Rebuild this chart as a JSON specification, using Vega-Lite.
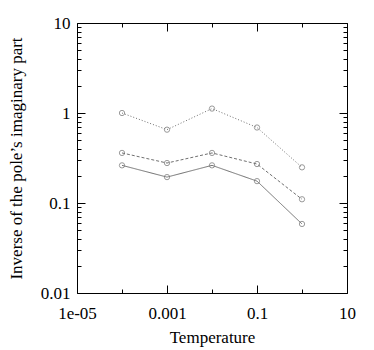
{
  "$schema": "https://vega.github.io/schema/vega-lite/v6.json",
  "width": 270,
  "height": 270,
  "autosize": {"type": "none"},
  "padding": {"left": 77, "top": 23, "right": 27, "bottom": 57},
  "background": "white",
  "config": {
    "view": {"stroke": "black", "strokeWidth": 1},
    "font": "Liberation Serif",
    "axis": {
      "domain": false,
      "grid": false,
      "tickColor": "black",
      "labelFont": "Liberation Serif",
      "labelFontSize": 17,
      "labelColor": "black",
      "titleFont": "Liberation Serif",
      "titleFontSize": 17,
      "titleFontWeight": "normal",
      "titleColor": "black",
      "labelFlush": false,
      "labelOverlap": false
    }
  },
  "data": {
    "values": [
      {"series": "a", "t": 0.0001, "v": 1.0},
      {"series": "a", "t": 0.001, "v": 0.653},
      {"series": "a", "t": 0.01, "v": 1.12},
      {"series": "a", "t": 0.1, "v": 0.69},
      {"series": "a", "t": 1, "v": 0.249},
      {"series": "b", "t": 0.0001, "v": 0.36},
      {"series": "b", "t": 0.001, "v": 0.278},
      {"series": "b", "t": 0.01, "v": 0.36},
      {"series": "b", "t": 0.1, "v": 0.271},
      {"series": "b", "t": 1, "v": 0.11},
      {"series": "c", "t": 0.0001, "v": 0.262},
      {"series": "c", "t": 0.001, "v": 0.194},
      {"series": "c", "t": 0.01, "v": 0.262},
      {"series": "c", "t": 0.1, "v": 0.175},
      {"series": "c", "t": 1, "v": 0.0585}
    ]
  },
  "layer": [
    {
      "mark": {"type": "line", "color": "#707070", "strokeWidth": 1},
      "encoding": {
        "x": {
          "field": "t", "type": "quantitative",
          "scale": {"type": "log", "domain": [0.00001, 10], "nice": false},
          "axis": {
            "orient": "bottom",
            "title": "Temperature",
            "titlePadding": 4,
            "values": [0.00001, 0.0001, 0.001, 0.01, 0.1, 1, 10],
            "labelExpr": "datum.value == 0.00001 ? '1e-05' : datum.value == 0.001 ? '0.001' : datum.value == 0.1 ? '0.1' : datum.value == 10 ? '10' : ''",
            "tickSize": {"condition": {"test": "datum.value == 0.0001 || datum.value == 0.01 || datum.value == 1", "value": -4}, "value": -8},
            "labelPadding": 20
          }
        },
        "y": {
          "field": "v", "type": "quantitative",
          "scale": {"type": "log", "domain": [0.01, 10], "nice": false},
          "axis": {
            "orient": "left",
            "title": "Inverse of the pole’s imaginary part",
            "titlePadding": 15,
            "values": [0.01, 0.02, 0.03, 0.04, 0.05, 0.06, 0.07, 0.08, 0.09, 0.1, 0.2, 0.3, 0.4, 0.5, 0.6, 0.7, 0.8, 0.9, 1, 2, 3, 4, 5, 6, 7, 8, 9, 10],
            "labelExpr": "datum.value == 0.01 ? '0.01' : datum.value == 0.1 ? '0.1' : datum.value == 1 ? '1' : datum.value == 10 ? '10' : ''",
            "tickSize": {"condition": {"test": "indexof([0.01, 0.1, 1, 10], datum.value) < 0", "value": -4}, "value": -8},
            "labelPadding": 15
          }
        },
        "strokeDash": {
          "field": "series", "type": "nominal",
          "scale": {"domain": ["a", "b", "c"], "range": [[1, 2], [3, 2], [1, 0]]},
          "legend": null
        },
        "detail": {"field": "series"}
      }
    },
    {
      "mark": {"type": "point", "shape": "circle", "filled": false, "size": 28, "color": "#707070", "strokeWidth": 1},
      "encoding": {
        "x": {"field": "t", "type": "quantitative", "axis": null},
        "y": {"field": "v", "type": "quantitative", "axis": null}
      }
    },
    {
      "mark": {"type": "point", "opacity": 0},
      "encoding": {
        "x": {
          "field": "t", "type": "quantitative",
          "axis": {
            "orient": "top", "title": null, "labels": false,
            "values": [0.00001, 0.0001, 0.001, 0.01, 0.1, 1, 10],
            "tickSize": {"condition": {"test": "datum.value == 0.0001 || datum.value == 0.01 || datum.value == 1", "value": -4}, "value": -8}
          }
        },
        "y": {
          "field": "v", "type": "quantitative",
          "axis": {
            "orient": "right", "title": null, "labels": false,
            "values": [0.01, 0.02, 0.03, 0.04, 0.05, 0.06, 0.07, 0.08, 0.09, 0.1, 0.2, 0.3, 0.4, 0.5, 0.6, 0.7, 0.8, 0.9, 1, 2, 3, 4, 5, 6, 7, 8, 9, 10],
            "tickSize": {"condition": {"test": "indexof([0.01, 0.1, 1, 10], datum.value) < 0", "value": -4}, "value": -8}
          }
        }
      }
    }
  ],
  "resolve": {"axis": {"x": "independent", "y": "independent"}}
}
